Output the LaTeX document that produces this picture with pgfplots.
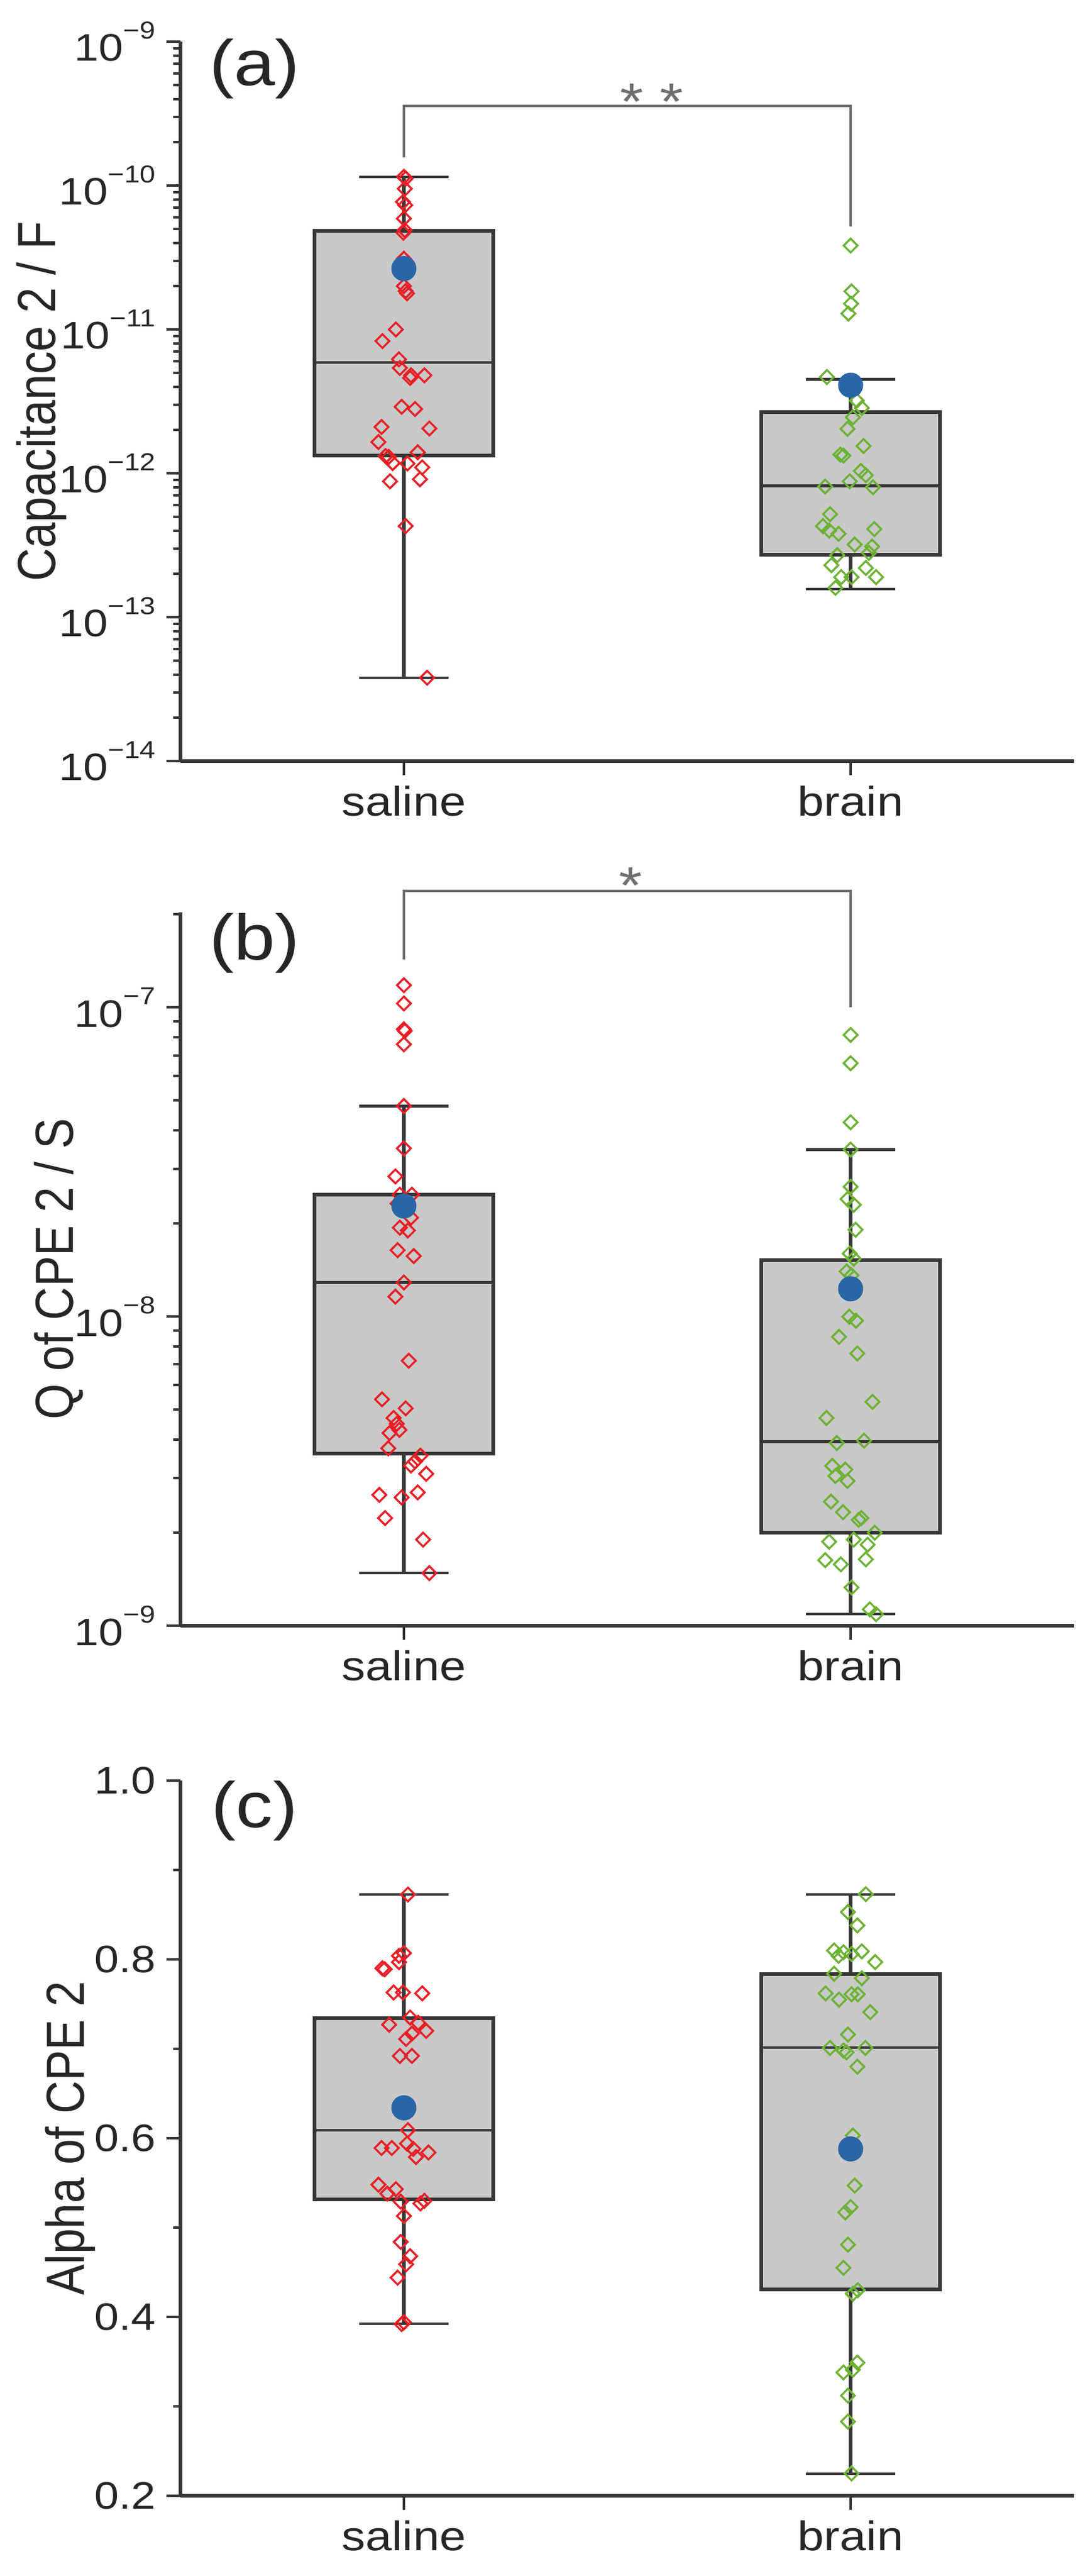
\documentclass[border=0pt]{standalone}
\usepackage{fontspec}
\setmainfont{Liberation Sans}[FakeStretch=1.15]
\newfontfamily\labelfont{Liberation Sans}
\usepackage{pgfplots}
\pgfplotsset{compat=1.18}

\definecolor{myred}{RGB}{232,30,37}
\definecolor{mygreen}{RGB}{108,178,52}
\definecolor{myblue}{RGB}{42,101,165}
\definecolor{boxgray}{RGB}{200,200,200}
\definecolor{darkline}{RGB}{55,55,55}
\definecolor{brk}{RGB}{110,110,110}

\newcommand{\tp}[1]{10\raisebox{7.3pt}{\fontsize{8}{9}\selectfont −#1}}

\pgfplotsset{
  panel/.style={
    scale only axis, width=292pt,
    axis lines=left, axis line style={-, line width=1.1pt, darkline},
    xmin=0.5, xmax=2.5, xtick={1,2}, xticklabels={saline,brain},
    tick align=outside, major tick length=4.6pt, minor tick length=2.3pt,
    every tick/.style={darkline, line width=0.8pt},
    yticklabel style={font=\fontsize{12.5}{14}\selectfont, text=black!85},
    xticklabel style={font=\fontsize{13.5}{16}\selectfont, text=black!85},
    ylabel style={font=\labelfont\fontsize{15}{18}\selectfont, anchor=base, yscale=1.17, text=black!85},
    clip=false,
  },
  redpts/.style={only marks, mark=square, mark size=1.6pt, mark options={rotate=45, draw=myred, line width=0.65pt, fill=none}},
  greenpts/.style={only marks, mark=square, mark size=1.6pt, mark options={rotate=45, draw=mygreen, line width=0.65pt, fill=none}},
  meanpt/.style={only marks, mark=*, mark size=3.9pt, mark options={draw=myblue, fill=myblue}},
  boxsty/.style={fill=boxgray, draw=darkline, line width=1.2pt},
  medsty/.style={darkline, line width=0.9pt},
  whsty/.style={darkline, line width=1.1pt},
  capsty/.style={darkline, line width=0.9pt},
  brksty/.style={brk, line width=0.9pt},
}

\begin{document}
\begin{tikzpicture}
\path[use as bounding box] (0,0) rectangle (354.4pt,-841.4pt);

% ---------------- (a) ----------------
\begin{axis}[panel, at={(59pt,-13.6pt)}, anchor=north west, height=235pt,
  ymode=log, ymin=1e-14, ymax=1e-9,
  ytick={1e-14,1e-13,1e-12,1e-11,1e-10,1e-9},
  yticklabels={\tp{14},\tp{13},\tp{12},\tp{11},\tp{10},\tp{9}},
  minor ytick={2e-14,3e-14,4e-14,5e-14,6e-14,7e-14,8e-14,9e-14,
               2e-13,3e-13,4e-13,5e-13,6e-13,7e-13,8e-13,9e-13,
               2e-12,3e-12,4e-12,5e-12,6e-12,7e-12,8e-12,9e-12,
               2e-11,3e-11,4e-11,5e-11,6e-11,7e-11,8e-11,9e-11,
               2e-10,3e-10,4e-10,5e-10,6e-10,7e-10,8e-10,9e-10},
  ylabel={Capacitance 2 / F},
  ylabel style={at={(axis description cs:-0.140,0.5)}},
]
% saline box
\addplot[boxsty] coordinates {(0.8,1.33e-12) (1.2,1.33e-12) (1.2,4.85e-11) (0.8,4.85e-11)} -- cycle;
\addplot[medsty] coordinates {(0.8,5.9e-12) (1.2,5.9e-12)};
\addplot[whsty] coordinates {(1,4.85e-11) (1,1.15e-10)};
\addplot[whsty] coordinates {(1,1.33e-12) (1,3.8e-14)};
\addplot[capsty] coordinates {(0.9,1.15e-10) (1.1,1.15e-10)};
\addplot[capsty] coordinates {(0.9,3.8e-14) (1.1,3.8e-14)};
% brain box
\addplot[boxsty] coordinates {(1.8,2.72e-13) (2.2,2.72e-13) (2.2,2.67e-12) (1.8,2.67e-12)} -- cycle;
\addplot[medsty] coordinates {(1.8,8.2e-13) (2.2,8.2e-13)};
\addplot[whsty] coordinates {(2,2.67e-12) (2,4.5e-12)};
\addplot[whsty] coordinates {(2,2.72e-13) (2,1.57e-13)};
\addplot[capsty] coordinates {(1.9,4.5e-12) (2.1,4.5e-12)};
\addplot[capsty] coordinates {(1.9,1.57e-13) (2.1,1.57e-13)};
% bracket
\addplot[brksty] coordinates {(1,1.57e-10) (1,3.57e-10) (2,3.57e-10) (2,5.2e-11)};
\node[anchor=base, text=brk, font=\fontsize{17}{18}\selectfont] at (axis cs:1.555,2.88e-10) {* *};
\node[font=\fontsize{21}{24}\selectfont, text=black!85] at (rel axis cs:0.083,0.962) {(a)};
% saline points
\addplot[redpts] table {
x y
1.000 1.15e-10
1.004 1.12e-10
1.002 9.5e-11
0.998 7.7e-11
1.003 7.3e-11
1.000 5.9e-11
1.002 4.9e-11
0.999 4.7e-11
1.000 3.1e-11
1.007 2.6e-11
0.995 2.8e-11
1.000 2.0e-11
1.004 1.85e-11
1.007 1.78e-11
0.982 1.0e-11
0.952 8.3e-12
0.989 6.2e-12
0.991 5.4e-12
1.016 4.8e-12
1.046 4.8e-12
1.014 4.6e-12
0.995 2.9e-12
1.025 2.8e-12
0.950 2.1e-12
1.057 2.05e-12
0.943 1.65e-12
1.031 1.40e-12
0.959 1.32e-12
0.966 1.30e-12
0.975 1.18e-12
1.008 1.17e-12
1.041 1.10e-12
1.036 0.91e-12
0.969 0.88e-12
1.004 4.3e-13
1.052 3.8e-14
};
% brain points
\addplot[greenpts] table {
x y
2.000 3.83e-11
2.002 1.84e-11
2.001 1.51e-11
1.995 1.29e-11
1.947 4.67e-12
1.993 4.25e-12
2.002 3.95e-12
2.014 3.2e-12
2.025 2.85e-12
2.005 2.45e-12
1.993 2.04e-12
2.029 1.55e-12
1.977 1.35e-12
1.984 1.33e-12
2.023 1.04e-12
2.034 0.97e-12
1.998 0.88e-12
1.943 0.81e-12
2.050 0.80e-12
1.954 5.2e-13
1.938 4.3e-13
1.952 4.0e-13
1.973 3.8e-13
2.053 4.1e-13
2.009 3.2e-13
2.048 3.1e-13
2.041 2.8e-13
1.970 2.7e-13
1.957 2.3e-13
2.034 2.2e-13
1.979 1.9e-13
2.057 1.9e-13
2.002 1.9e-13
1.966 1.6e-13
};
\addplot[meanpt] coordinates {(1,2.65e-11) (2,4.1e-12)};
\end{axis}

% ---------------- (b) ----------------
\begin{axis}[panel, at={(59pt,-298pt)}, anchor=north west, height=233pt,
  ymode=log, ymin=1e-9, ymax=2.03e-7,
  ytick={1e-9,1e-8,1e-7},
  yticklabels={\tp{9},\tp{8},\tp{7}},
  minor ytick={2e-9,3e-9,4e-9,5e-9,6e-9,7e-9,8e-9,9e-9,
               2e-8,3e-8,4e-8,5e-8,6e-8,7e-8,8e-8,9e-8,2e-7},
  ylabel={Q of CPE 2 / S},
  ylabel style={at={(axis description cs:-0.120,0.5)}},
]
\addplot[boxsty] coordinates {(0.8,3.6e-9) (1.2,3.6e-9) (1.2,2.48e-8) (0.8,2.48e-8)} -- cycle;
\addplot[medsty] coordinates {(0.8,1.29e-8) (1.2,1.29e-8)};
\addplot[whsty] coordinates {(1,2.48e-8) (1,4.8e-8)};
\addplot[whsty] coordinates {(1,3.6e-9) (1,1.48e-9)};
\addplot[capsty] coordinates {(0.9,4.8e-8) (1.1,4.8e-8)};
\addplot[capsty] coordinates {(0.9,1.48e-9) (1.1,1.48e-9)};
\addplot[boxsty] coordinates {(1.8,2.0e-9) (2.2,2.0e-9) (2.2,1.52e-8) (1.8,1.52e-8)} -- cycle;
\addplot[medsty] coordinates {(1.8,3.94e-9) (2.2,3.94e-9)};
\addplot[whsty] coordinates {(2,1.52e-8) (2,3.47e-8)};
\addplot[whsty] coordinates {(2,2.0e-9) (2,1.09e-9)};
\addplot[capsty] coordinates {(1.9,3.47e-8) (2.1,3.47e-8)};
\addplot[capsty] coordinates {(1.9,1.09e-9) (2.1,1.09e-9)};
\addplot[brksty] coordinates {(1,1.43e-7) (1,2.38e-7) (2,2.38e-7) (2,1.0e-7)};
\node[anchor=base, text=brk, font=\fontsize{17}{18}\selectfont] at (axis cs:1.507,2.17e-7) {*};
\node[font=\fontsize{21}{24}\selectfont, text=black!85] at (rel axis cs:0.083,0.957) {(b)};
\addplot[redpts] table {
x y
1.000 1.18e-7
1.000 1.03e-7
1.000 8.5e-8
1.002 8.4e-8
1.000 7.6e-8
1.000 4.8e-8
1.000 3.5e-8
0.981 2.84e-8
1.018 2.48e-8
0.991 2.48e-8
0.986 2.32e-8
1.009 2.26e-8
1.016 2.09e-8
0.991 1.94e-8
1.009 1.9e-8
0.986 1.64e-8
1.022 1.57e-8
1.000 1.29e-8
0.981 1.16e-8
1.011 7.2e-9
0.951 5.4e-9
1.004 5.05e-9
0.977 4.7e-9
0.984 4.5e-9
0.990 4.3e-9
0.968 4.2e-9
0.965 3.75e-9
1.037 3.55e-9
1.025 3.4e-9
1.016 3.3e-9
1.050 3.1e-9
1.031 2.7e-9
0.945 2.65e-9
0.995 2.6e-9
0.958 2.23e-9
1.043 1.9e-9
1.057 1.48e-9
};
\addplot[greenpts] table {
x y
2.000 8.15e-8
2.000 6.6e-8
2.000 4.25e-8
2.000 3.47e-8
2.000 2.63e-8
1.993 2.4e-8
2.007 2.3e-8
2.011 1.91e-8
1.998 1.6e-8
2.007 1.54e-8
1.991 1.4e-8
2.002 1.36e-8
1.997 1.0e-8
2.012 9.7e-9
1.974 8.6e-9
2.015 7.6e-9
2.049 5.3e-9
1.946 4.7e-9
1.969 3.9e-9
2.030 3.97e-9
1.959 3.29e-9
1.988 3.2e-9
1.966 3.05e-9
1.993 2.94e-9
1.956 2.52e-9
1.983 2.33e-9
2.024 2.23e-9
2.018 2.2e-9
2.054 2.0e-9
2.007 1.9e-9
1.952 1.87e-9
2.038 1.83e-9
1.943 1.63e-9
2.034 1.64e-9
1.978 1.58e-9
2.002 1.33e-9
2.043 1.13e-9
2.057 1.09e-9
};
\addplot[meanpt] coordinates {(1,2.28e-8) (2,1.23e-8)};
\end{axis}

% ---------------- (c) ----------------
\begin{axis}[panel, at={(59pt,-581.6pt)}, anchor=north west, height=233.6pt,
  ymin=0.2, ymax=1.0,
  ytick={0.2,0.4,0.6,0.8,1.0},
  yticklabels={0.2,0.4,0.6,0.8,1.0},
  minor ytick={0.3,0.5,0.7,0.9},
  ylabel={Alpha of CPE 2},
  ylabel style={at={(axis description cs:-0.108,0.5)}},
]
\addplot[boxsty] coordinates {(0.8,0.5315) (1.2,0.5315) (1.2,0.734) (0.8,0.734)} -- cycle;
\addplot[medsty] coordinates {(0.8,0.609) (1.2,0.609)};
\addplot[whsty] coordinates {(1,0.734) (1,0.8726)};
\addplot[whsty] coordinates {(1,0.5315) (1,0.3925)};
\addplot[capsty] coordinates {(0.9,0.8726) (1.1,0.8726)};
\addplot[capsty] coordinates {(0.9,0.3925) (1.1,0.3925)};
\addplot[boxsty] coordinates {(1.8,0.4308) (2.2,0.4308) (2.2,0.7836) (1.8,0.7836)} -- cycle;
\addplot[medsty] coordinates {(1.8,0.7014) (2.2,0.7014)};
\addplot[whsty] coordinates {(2,0.7836) (2,0.8726)};
\addplot[whsty] coordinates {(2,0.4308) (2,0.2247)};
\addplot[capsty] coordinates {(1.9,0.8726) (2.1,0.8726)};
\addplot[capsty] coordinates {(1.9,0.2247) (2.1,0.2247)};
\node[font=\fontsize{21}{24}\selectfont, text=black!85] at (rel axis cs:0.083,0.958) {(c)};
\addplot[redpts] table {
x y
1.009 0.8726
1.000 0.807
0.989 0.804
0.989 0.797
0.952 0.790
0.957 0.789
0.977 0.763
0.998 0.763
1.041 0.762
1.014 0.735
0.967 0.727
1.032 0.729
1.050 0.720
1.018 0.717
1.005 0.711
0.991 0.692
1.018 0.692
0.991 0.635
1.005 0.635
1.009 0.609
1.007 0.594
0.950 0.589
0.973 0.589
1.021 0.588
1.055 0.584
1.027 0.579
0.943 0.548
0.982 0.543
0.963 0.538
0.993 0.529
1.037 0.527
1.046 0.530
1.000 0.513
0.993 0.484
1.014 0.468
1.005 0.459
0.986 0.444
1.000 0.394
0.995 0.392
};
\addplot[greenpts] table {
x y
2.034 0.873
1.994 0.853
2.015 0.838
1.963 0.810
1.984 0.808
1.973 0.804
2.002 0.806
2.025 0.809
2.055 0.797
1.963 0.784
2.025 0.779
1.944 0.762
2.002 0.761
2.016 0.761
1.974 0.755
2.044 0.741
1.994 0.716
1.954 0.701
1.984 0.698
1.991 0.696
2.033 0.701
2.015 0.680
2.005 0.603
2.009 0.547
2.000 0.523
1.988 0.517
1.994 0.481
1.984 0.455
2.016 0.430
2.005 0.426
2.015 0.349
1.984 0.338
2.005 0.341
1.994 0.312
1.994 0.283
2.002 0.225
};
\addplot[meanpt] coordinates {(1,0.634) (2,0.588)};
\end{axis}
\end{tikzpicture}
\end{document}
